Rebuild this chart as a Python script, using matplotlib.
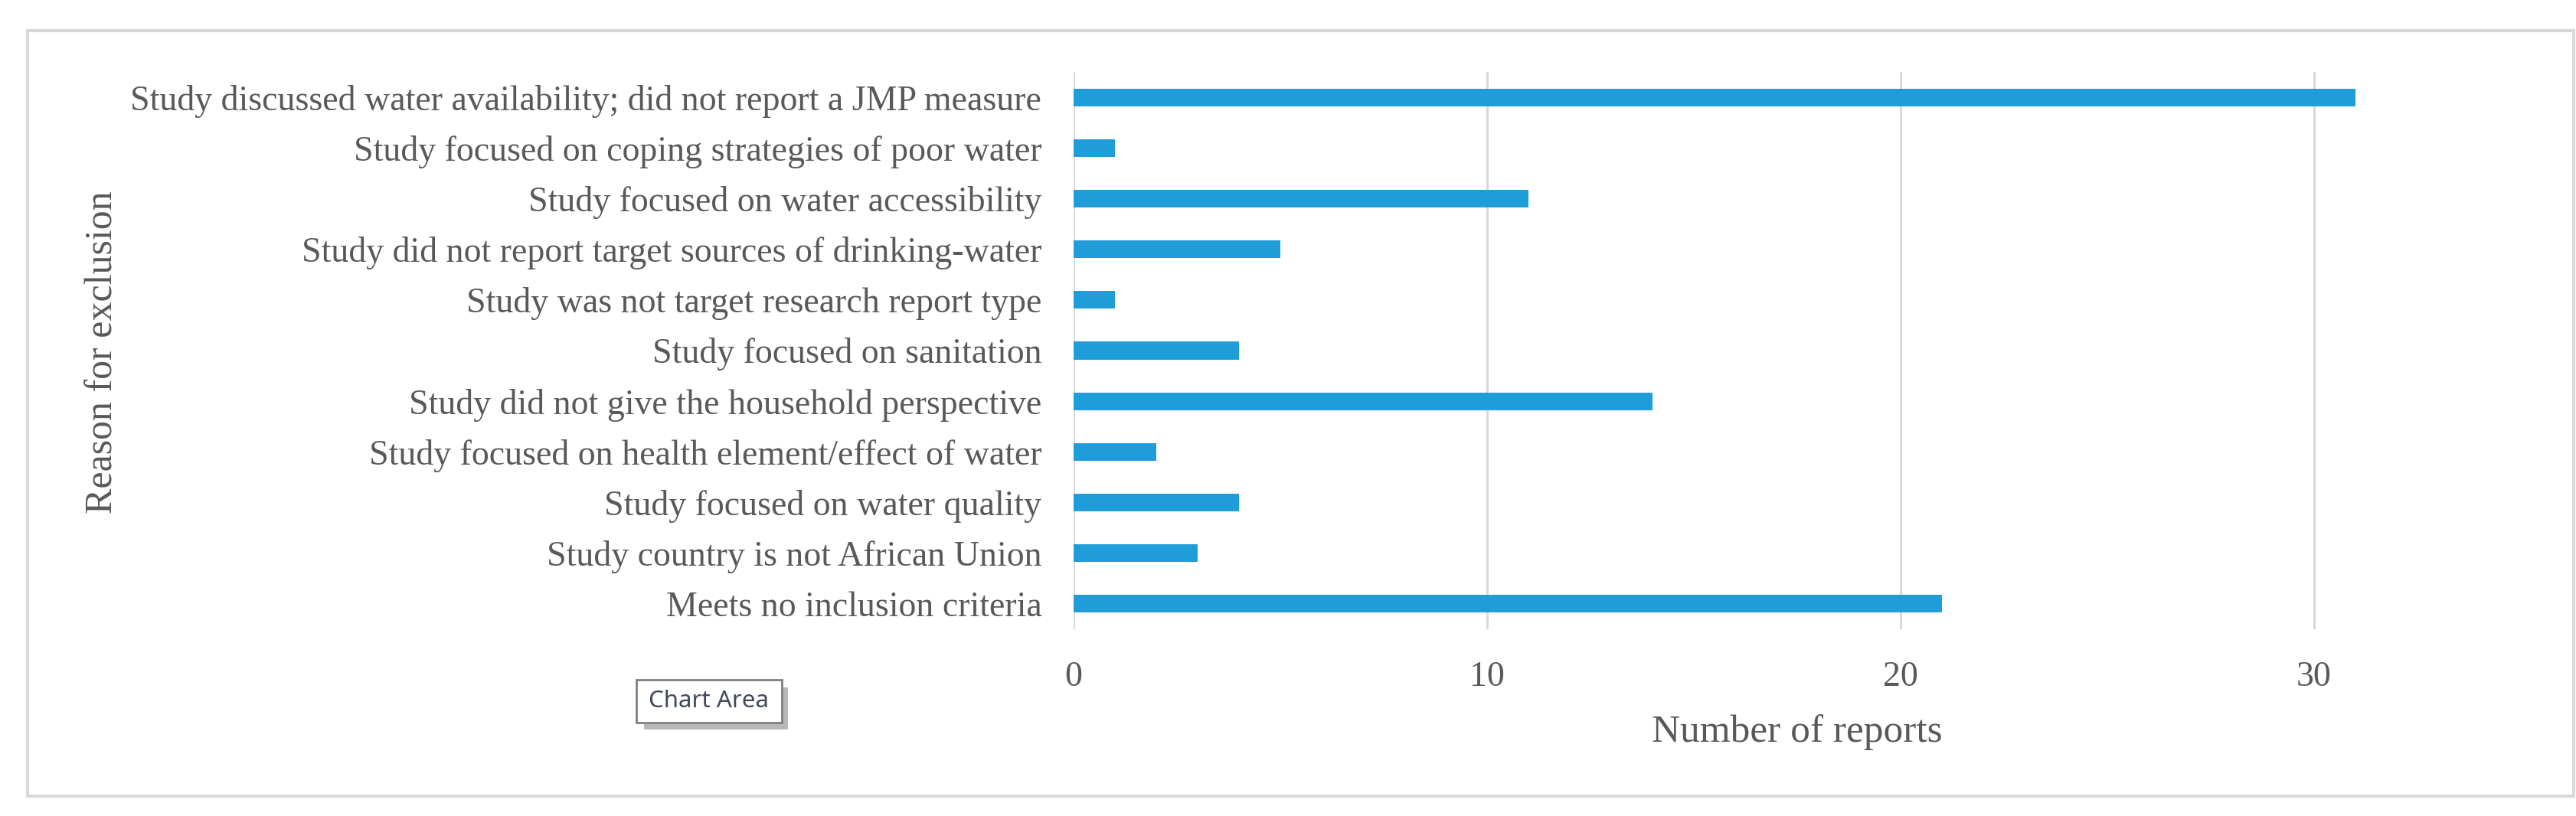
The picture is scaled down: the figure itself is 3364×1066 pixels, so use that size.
import matplotlib
matplotlib.use("Agg")
import matplotlib.pyplot as plt
from matplotlib.patches import Rectangle

# data, top to bottom as shown
reasons = [
    "Study discussed water availability; did not report a JMP measure",
    "Study focused on coping strategies of poor water",
    "Study focused on water accessibility",
    "Study did not report target sources of drinking-water",
    "Study was not target research report type",
    "Study focused on sanitation",
    "Study did not give the household perspective",
    "Study focused on health element/effect of water",
    "Study focused on water quality",
    "Study country is not African Union",
    "Meets no inclusion criteria",
]
reports = [31, 1, 11, 5, 1, 4, 14, 2, 4, 3, 21]
x_ticks = [0, 10, 20, 30]

W, H = 3364, 1066
BLUE = "#1f9dd9"
GRID = "#d9d9d9"
TXT = "#595959"
SERIF = "Liberation Serif"


def fx(px):
    return px / W


def fy(py):
    return 1 - py / H


fig = plt.figure(figsize=(W / 100, H / 100), dpi=100)
fig.patch.set_facecolor("white")

# chart border
fig.patches.append(Rectangle((fx(36), fy(1040)), fx(3361) - fx(36), fy(40) - fy(1040),
                             transform=fig.transFigure, fill=False,
                             edgecolor=GRID, linewidth=3))

top, bottom = 94, 822
ax = fig.add_axes([fx(1402), fy(bottom), fx(3292) - fx(1402), fy(top) - fy(bottom)])
ax.barh(range(len(reasons)), reports, height=0.35, color=BLUE, zorder=3)
ax.set_xlim(0, 35)
ax.set_ylim(len(reasons) - 0.5, -0.5)
ax.set_yticks(range(len(reasons)))
ax.set_yticklabels(reasons, fontsize=33, family=SERIF, color=TXT)
ax.set_xticks(x_ticks)
ax.set_xticklabels([str(t) for t in x_ticks], fontsize=33, family=SERIF, color=TXT)
ax.tick_params(axis="both", length=0)
ax.tick_params(axis="y", pad=30)
ax.tick_params(axis="x", pad=30)
for s in ax.spines.values():
    s.set_visible(False)
ax.grid(axis="x", color=GRID, linewidth=2.2, zorder=0)
ax.set_axisbelow(True)

ax.set_xlabel("Number of reports", fontsize=37, family=SERIF, color=TXT)
ax.xaxis.label.set_va("center")
ax.xaxis.set_label_coords(0.5, (bottom - 957) / (bottom - top))
fig.text(fx(134), fy(460), "Reason for exclusion", rotation=90, ha="center", va="center",
         fontsize=36, family=SERIF, color=TXT)

# "Chart Area" tooltip from the screenshot
fig.patches.append(Rectangle((fx(841), fy(953)), fx(1029) - fx(841), fy(898) - fy(953),
                             transform=fig.transFigure, facecolor="#a6a6a6",
                             edgecolor="none", alpha=0.8))
fig.patches.append(Rectangle((fx(831), fy(944)), fx(1021) - fx(831), fy(888) - fy(944),
                             transform=fig.transFigure, facecolor="white",
                             edgecolor="#808080", linewidth=2))
fig.text(fx(926), fy(916), "Chart Area", ha="center", va="center",
         fontsize=22.5, family="Noto Sans", color="#404a5a")

fig.savefig("out.png", dpi=100)
